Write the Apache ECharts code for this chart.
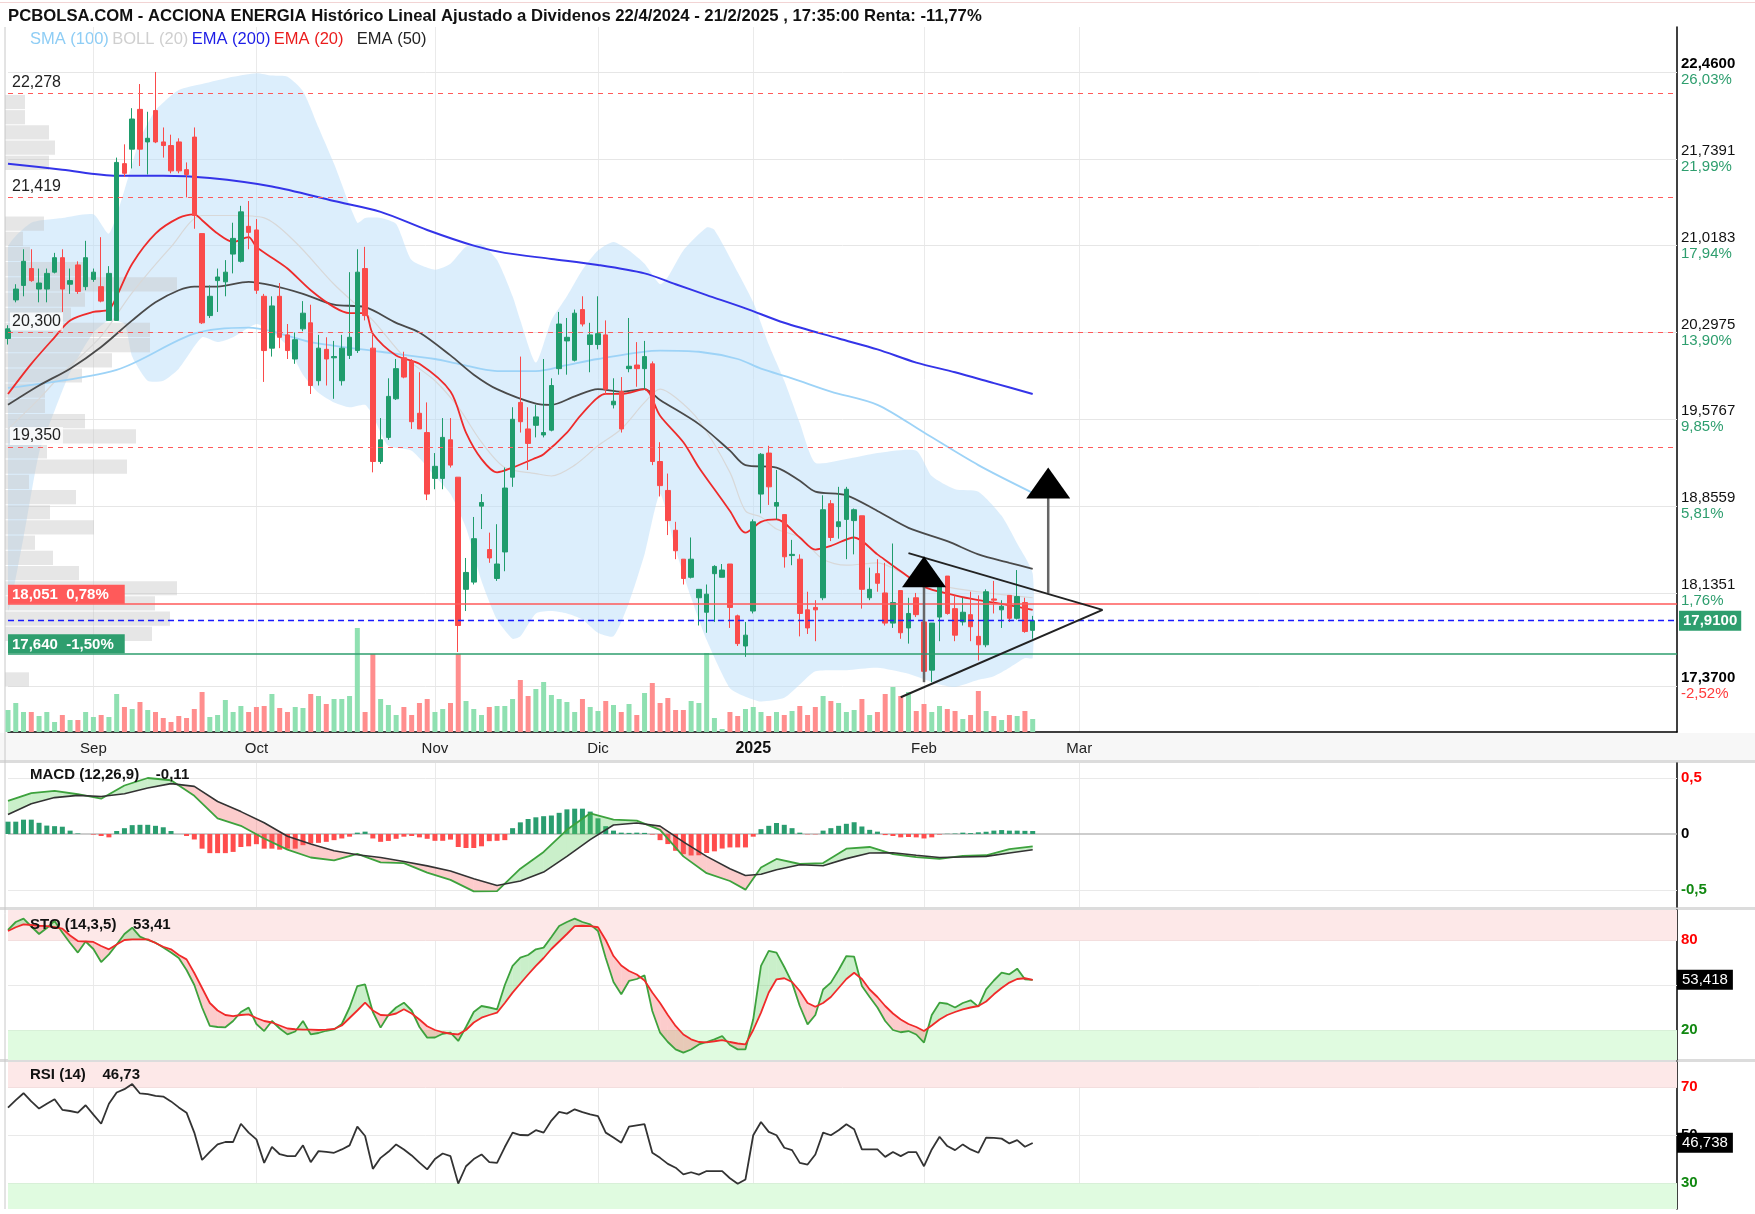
<!DOCTYPE html>
<html>
<head>
<meta charset="utf-8">
<script src="https://cdn.jsdelivr.net/npm/echarts@6/dist/echarts.min.js"></script>
<style>
  html, body { margin: 0; padding: 0; background: #fff; }
  #chart { width: 1755px; height: 1214px; }
</style>
</head>
<body>
<div id="chart"></div>
<script>
// ACCIONA ENERGIA - velas diarias + indicadores
const firstDay = [2024, 7, 16];            // 16/08/2024
const marketHolidays = ['2024-12-25', '2024-12-26', '2025-01-01', '2025-04-18', '2025-04-21', '2025-05-01'];
const slotCount = 216;                    // sesiones + hueco futuro
const monthLabels = { '2024-09': 'Sep', '2024-10': 'Oct', '2024-11': 'Nov', '2024-12': 'Dic', '2025-01': '2025', '2025-02': 'Feb', '2025-03': 'Mar' };

// [open, close, low, high]
const ohlc = [
  [20.25, 20.33, 20.20, 20.36], [20.57, 20.66, 20.55, 20.70], [20.69, 20.89, 20.60, 20.99], [20.83, 20.73, 20.72, 20.99], [20.66, 20.71, 20.55, 20.83],
  [20.66, 20.79, 20.55, 20.83], [20.80, 20.92, 20.79, 20.96], [20.92, 20.66, 20.47, 20.99], [20.70, 20.73, 20.62, 20.83], [20.86, 20.64, 20.62, 20.89],
  [20.68, 20.92, 20.65, 21.06], [20.74, 20.80, 20.72, 20.83], [20.68, 20.56, 20.55, 21.09], [20.40, 20.79, 20.40, 20.85], [20.40, 21.71, 20.40, 21.75],
  [21.70, 21.62, 21.59, 21.86], [21.82, 22.07, 21.66, 22.16], [22.15, 21.82, 21.68, 22.36], [21.88, 21.91, 21.61, 22.13], [22.14, 21.88, 21.87, 22.46],
  [21.88, 21.85, 21.75, 22.00], [21.85, 21.64, 21.62, 21.94], [21.88, 21.64, 21.62, 21.91], [21.65, 21.61, 21.42, 21.71], [21.92, 21.27, 21.16, 22.00],
  [21.12, 20.38, 20.37, 21.12], [20.44, 20.60, 20.42, 20.69], [20.73, 20.76, 20.47, 20.83], [20.72, 20.80, 20.60, 20.90], [20.95, 21.08, 20.79, 21.21],
  [20.89, 21.30, 20.88, 21.35], [21.18, 21.13, 20.99, 21.39], [21.15, 20.65, 20.62, 21.24], [20.60, 20.15, 19.89, 20.62], [20.17, 20.52, 20.10, 20.60],
  [20.60, 20.26, 20.17, 20.71], [20.28, 20.15, 20.08, 20.37], [20.08, 20.24, 20.04, 20.30], [20.33, 20.46, 20.31, 20.56], [20.38, 19.86, 19.79, 20.53],
  [19.90, 20.17, 19.86, 20.28], [20.16, 20.08, 19.86, 20.26], [20.09, 20.10, 19.75, 20.23], [19.90, 20.17, 19.86, 20.28], [20.11, 20.26, 20.08, 20.80],
  [20.15, 20.80, 20.13, 20.99], [20.83, 20.44, 20.40, 21.01], [20.17, 19.23, 19.14, 20.28], [19.23, 19.41, 19.21, 19.59], [19.43, 19.77, 19.41, 19.92],
  [19.75, 20.00, 19.74, 20.08], [20.09, 19.93, 19.92, 20.14], [20.06, 19.56, 19.50, 20.08], [19.63, 19.50, 19.50, 19.97], [19.47, 18.96, 18.91, 19.72],
  [19.09, 19.19, 19.00, 19.30], [19.09, 19.43, 19.00, 19.59], [19.41, 19.20, 19.18, 19.59], [19.10, 17.87, 17.65, 19.10], [18.17, 18.31, 17.99, 18.43],
  [18.23, 18.59, 18.21, 18.77], [18.86, 18.89, 18.67, 18.96], [18.50, 18.43, 18.39, 18.64], [18.26, 18.38, 18.24, 18.71], [18.48, 19.01, 18.32, 19.18],
  [19.10, 19.58, 19.02, 19.68], [19.72, 19.56, 19.47, 20.10], [19.50, 19.38, 19.16, 19.68], [19.53, 19.60, 19.43, 19.70], [19.45, 19.47, 19.43, 20.08],
  [19.49, 19.86, 19.48, 19.92], [20.00, 20.37, 19.95, 20.47], [20.23, 20.26, 19.95, 20.42], [20.07, 20.46, 20.06, 20.49], [20.49, 20.37, 20.35, 20.60],
  [20.20, 20.28, 19.97, 20.38], [20.20, 20.29, 20.16, 20.60], [20.28, 19.83, 19.79, 20.40], [19.70, 19.73, 19.67, 19.92], [19.81, 19.50, 19.47, 19.93],
  [20.00, 20.02, 19.97, 20.42], [20.03, 20.00, 19.85, 20.22], [20.00, 20.10, 19.83, 20.23], [20.04, 19.23, 19.20, 20.06], [19.23, 19.03, 18.94, 19.39],
  [18.99, 18.74, 18.62, 19.13], [18.66, 18.49, 18.42, 18.73], [18.42, 18.26, 18.21, 18.42], [18.27, 18.42, 18.26, 18.60], [18.10, 18.17, 17.87, 18.17],
  [17.98, 18.13, 17.81, 18.21], [18.30, 18.36, 17.90, 18.37], [18.27, 18.33, 18.27, 18.38], [18.38, 18.02, 17.85, 18.38], [17.95, 17.72, 17.70, 17.96],
  [17.70, 17.79, 17.61, 17.90], [17.99, 18.73, 17.97, 18.75], [18.96, 19.29, 18.80, 19.30], [19.30, 19.02, 18.87, 19.36], [18.86, 18.89, 18.75, 19.16],
  [18.79, 18.44, 18.35, 18.79], [18.45, 18.46, 18.37, 18.58], [18.42, 17.97, 17.78, 18.46], [18.00, 17.85, 17.80, 18.15], [18.02, 18.00, 17.74, 18.08],
  [18.10, 18.83, 18.08, 18.95], [18.88, 18.60, 18.57, 18.91], [18.69, 18.73, 18.59, 19.02], [18.75, 19.00, 18.42, 19.02], [18.74, 18.83, 18.46, 18.84],
  [18.78, 18.17, 18.01, 18.78], [18.10, 18.17, 18.08, 18.35], [18.30, 18.22, 18.15, 18.42], [18.14, 17.89, 17.87, 18.39], [17.89, 18.06, 17.85, 18.55],
  [18.16, 17.81, 17.76, 18.16], [17.85, 17.97, 17.72, 18.10], [18.10, 17.96, 17.94, 18.14], [17.90, 17.49, 17.49, 17.92], [17.50, 17.89, 17.40, 17.89],
  [17.94, 18.23, 17.74, 18.26], [18.28, 17.97, 17.96, 18.28], [18.01, 17.79, 17.74, 18.12], [17.90, 17.98, 17.87, 18.10], [17.96, 17.86, 17.74, 18.15],
  [17.78, 17.71, 17.58, 18.12], [17.71, 18.15, 17.69, 18.17], [18.09, 18.08, 17.97, 18.24], [18.00, 18.03, 17.85, 18.08], [18.12, 17.93, 17.90, 18.12],
  [17.93, 18.11, 17.92, 18.33], [18.06, 17.82, 17.81, 18.10], [17.83, 17.91, 17.76, 17.95]
];

const volume = [
  22, 29, 20, 20, 16, 20, 10, 17, 12, 12,
  20, 15, 17, 15, 38, 25, 23, 30, 22, 20,
  14, 10, 16, 14, 23, 40, 15, 17, 32, 20,
  26, 20, 25, 26, 38, 24, 20, 25, 24, 38,
  36, 28, 33, 33, 36, 104, 20, 78, 33, 27,
  17, 25, 17, 29, 33, 20, 23, 29, 78, 31,
  23, 17, 25, 26, 26, 33, 52, 36, 43, 50,
  37, 33, 30, 20, 33, 25, 21, 31, 27, 20,
  28, 17, 39, 49, 29, 34, 22, 22, 31, 29,
  79, 14, 3, 20, 16, 23, 25, 20, 16, 20,
  17, 21, 26, 17, 25, 36, 31, 29, 20, 22,
  33, 17, 20, 38, 45, 36, 40, 21, 28, 20,
  26, 23, 21, 13, 17, 41, 21, 16, 12, 17,
  16, 21, 13
];

// medias: [sesion, valor]
const ema200 = [[0, 21.70], [7, 21.65], [14, 21.60], [20, 21.60], [26, 21.58], [34, 21.51], [42, 21.39], [48, 21.30], [54, 21.15], [60, 21.02], [64, 20.96], [70, 20.91], [76, 20.86], [82, 20.79], [86, 20.70], [90, 20.61], [95, 20.50], [100, 20.38], [107, 20.25], [112, 20.16], [117, 20.05], [122, 19.97], [127, 19.88], [132, 19.79]];
const sma100 = [[0, 19.84], [14, 19.99], [24, 20.29], [31, 20.34], [34, 20.31], [39, 20.22], [48, 20.14], [55, 20.08], [58, 20.04], [63, 19.98], [68, 19.98], [72, 20.03], [76, 20.08], [84, 20.15], [89, 20.14], [94, 20.08], [97, 20.00], [101, 19.92], [106, 19.81], [112, 19.70], [118, 19.47], [125, 19.20], [132, 18.97]];
const ema20 = [[0, 19.79], [3, 20.04], [6, 20.26], [8, 20.40], [11, 20.47], [13, 20.49], [14, 20.60], [16, 20.87], [19, 21.12], [22, 21.25], [24, 21.28], [25, 21.23], [27, 21.12], [29, 21.05], [31, 21.09], [32, 21.01], [34, 20.92], [36, 20.83], [39, 20.65], [42, 20.51], [44, 20.46], [46, 20.46], [47, 20.29], [50, 20.11], [53, 20.04], [57, 19.81], [59, 19.47], [61, 19.25], [63, 19.14], [65, 19.18], [68, 19.26], [69, 19.29], [72, 19.47], [74, 19.63], [77, 19.79], [79, 19.79], [82, 19.83], [84, 19.61], [87, 19.39], [89, 19.18], [91, 19.00], [93, 18.82], [95, 18.64], [97, 18.73], [99, 18.75], [102, 18.60], [104, 18.50], [106, 18.53], [109, 18.60], [112, 18.46], [115, 18.32], [118, 18.19], [122, 18.12], [125, 18.08], [128, 18.05], [132, 18.00]];
const ema50 = [[0, 19.70], [4, 19.86], [8, 20.00], [12, 20.18], [16, 20.40], [19, 20.55], [22, 20.65], [24, 20.68], [27, 20.68], [31, 20.72], [34, 20.69], [38, 20.62], [42, 20.53], [46, 20.51], [50, 20.38], [53, 20.30], [57, 20.11], [60, 19.95], [63, 19.83], [68, 19.71], [70, 19.70], [73, 19.77], [76, 19.83], [79, 19.81], [82, 19.83], [84, 19.74], [89, 19.54], [93, 19.32], [95, 19.20], [99, 19.18], [102, 19.07], [104, 18.98], [108, 18.95], [112, 18.82], [116, 18.68], [121, 18.57], [125, 18.46], [129, 18.39], [132, 18.34]];
const bollMid = [[0, 19.50], [4, 19.75], [7, 19.96], [12, 20.27], [16, 20.63], [21, 21.01], [25, 21.27], [29, 21.27], [33, 21.25], [37, 21.05], [42, 20.70], [47, 20.40], [51, 20.10], [55, 19.90], [58, 19.68], [61, 19.39], [64, 19.18], [68, 19.13], [70, 19.11], [73, 19.20], [76, 19.36], [79, 19.50], [82, 19.72], [84, 19.83], [86, 19.76], [89, 19.57], [93, 19.14], [95, 18.82], [97, 18.77], [99, 18.67], [102, 18.60], [105, 18.42], [108, 18.37], [112, 18.39], [116, 18.28], [121, 18.19], [125, 18.15], [129, 18.12], [132, 18.10]];
const bollUpper = [[0, 21.00], [3, 21.21], [7, 21.25], [11, 21.28], [13, 21.12], [15, 21.48], [17, 21.90], [19, 22.14], [22, 22.31], [25, 22.36], [29, 22.42], [32, 22.45], [34, 22.43], [36, 22.42], [38, 22.30], [40, 22.00], [42, 21.70], [45, 21.21], [46, 21.25], [48, 21.25], [50, 21.20], [52, 20.90], [55, 20.82], [57, 20.87], [59, 21.01], [61, 21.03], [63, 20.90], [65, 20.60], [66, 20.40], [68, 20.05], [70, 20.40], [72, 20.60], [74, 20.82], [76, 20.98], [78, 21.05], [80, 20.98], [82, 20.87], [84, 20.70], [85, 20.76], [87, 20.98], [90, 21.17], [91, 21.15], [94, 20.80], [96, 20.55], [98, 20.20], [100, 19.90], [102, 19.55], [104, 19.22], [108, 19.25], [112, 19.30], [117, 19.32], [119, 19.11], [122, 19.00], [125, 18.98], [128, 18.78], [130, 18.55], [132, 18.30]];
const bollLower = [[0, 18.00], [2, 18.60], [4, 19.30], [6, 19.65], [8, 19.97], [11, 20.30], [13, 20.40], [15, 20.37], [16, 20.10], [18, 19.90], [20, 19.90], [22, 20.00], [25, 20.26], [27, 20.22], [29, 20.26], [32, 20.37], [34, 20.30], [36, 20.19], [38, 19.95], [40, 19.80], [42, 19.72], [44, 19.68], [46, 19.70], [47, 19.61], [49, 19.36], [52, 19.32], [55, 19.11], [57, 18.96], [59, 18.68], [61, 18.24], [63, 17.92], [65, 17.76], [66, 17.78], [68, 17.97], [70, 17.99], [72, 17.97], [74, 17.92], [76, 17.81], [78, 17.78], [80, 18.06], [82, 18.46], [84, 18.96], [86, 18.50], [88, 18.10], [90, 17.75], [93, 17.35], [95, 17.28], [97, 17.24], [100, 17.27], [102, 17.38], [104, 17.49], [108, 17.50], [112, 17.52], [116, 17.47], [120, 17.38], [122, 17.36], [125, 17.42], [127, 17.45], [129, 17.52], [131, 17.60], [132, 17.60]];

// perfil de volumen: [precio inicial del tramo, volumen relativo]
const profileStep = 0.126;
const profile = [
  [17.360, 24], [17.738, 147], [17.864, 165], [17.990, 150], [18.116, 172], [18.242, 74], [18.368, 48], [18.494, 30],
  [18.620, 89], [18.746, 45], [18.872, 71], [18.998, 24], [19.124, 122], [19.250, 42], [19.376, 131], [19.502, 80],
  [19.628, 40], [19.754, 40], [19.880, 77], [20.006, 107], [20.132, 145], [20.258, 145], [20.384, 66], [20.510, 80],
  [20.636, 172], [20.762, 80], [20.888, 25], [21.014, 18], [21.140, 39], [21.644, 44], [21.770, 50], [21.896, 44],
  [22.022, 20], [22.148, 20]
];

// MACD (12,26,9)
const macdIdx = [0, 3, 6, 9, 12, 15, 18, 21, 24, 27, 30, 33, 36, 39, 42, 45, 48, 51, 54, 57, 60, 63, 66, 69, 72, 75, 78, 81, 84, 87, 90, 93, 95, 97, 99, 102, 105, 108, 111, 114, 117, 120, 123, 126, 129, 132];
const macdLine = [0.296, 0.365, 0.385, 0.355, 0.315, 0.433, 0.5, 0.48, 0.341, 0.14, 0.073, -0.04, -0.14, -0.21, -0.235, -0.177, -0.253, -0.26, -0.345, -0.41, -0.512, -0.51, -0.31, -0.16, 0.037, 0.185, 0.128, 0.12, 0.037, -0.2, -0.35, -0.42, -0.497, -0.3, -0.223, -0.268, -0.26, -0.131, -0.116, -0.18, -0.207, -0.223, -0.195, -0.19, -0.135, -0.11];
const signalLine = [0.174, 0.27, 0.325, 0.345, 0.335, 0.36, 0.41, 0.45, 0.425, 0.29, 0.2, 0.1, -0.02, -0.09, -0.15, -0.185, -0.21, -0.245, -0.285, -0.33, -0.4, -0.46, -0.42, -0.34, -0.2, -0.05, 0.08, 0.098, 0.07, -0.07, -0.2, -0.31, -0.37, -0.36, -0.32, -0.275, -0.284, -0.22, -0.17, -0.168, -0.19, -0.21, -0.205, -0.2, -0.17, -0.14];
const macdHist = [
  0.11, 0.11, 0.128, 0.128, 0.1, 0.075, 0.07, 0.065, 0.03, 0.005,
  0.0, -0.005, -0.018, -0.03, 0.027, 0.052, 0.079, 0.082, 0.082, 0.073,
  0.06, 0.027, 0.0, -0.018, -0.049, -0.131, -0.171, -0.171, -0.171, -0.16,
  -0.116, -0.11, -0.091, -0.131, -0.131, -0.14, -0.131, -0.131, -0.1, -0.085,
  -0.079, -0.07, -0.055, -0.04, -0.024, 0.012, 0.021, -0.04, -0.07, -0.062,
  -0.043, -0.024, -0.018, -0.03, -0.043, -0.061, -0.061, -0.05, -0.116, -0.125,
  -0.125, -0.11, -0.064, -0.061, -0.055, 0.052, 0.104, 0.134, 0.149, 0.159,
  0.165, 0.189, 0.22, 0.226, 0.226, 0.2, 0.14, 0.07, 0.03, 0.012,
  0.01, 0.012, 0.01, -0.005, -0.055, -0.09, -0.15, -0.18, -0.192, -0.19,
  -0.17, -0.155, -0.13, -0.12, -0.12, -0.12, -0.024, 0.043, 0.073, 0.098,
  0.082, 0.052, 0.012, -0.003, -0.003, 0.03, 0.052, 0.073, 0.091, 0.105,
  0.067, 0.037, 0.021, -0.01, -0.018, -0.03, -0.027, -0.03, -0.04, -0.03,
  -0.005, 0.002, 0.004, 0.012, 0.008, 0.015, 0.02, 0.03, 0.035, 0.03,
  0.03, 0.028, 0.027
];

// Estocastico (14,3,5)
const stoK = [
  86.7, 92, 94.2, 89, 84, 88, 92.7, 85, 78, 71.6,
  79, 74, 65.3, 70.4, 77, 84, 88.2, 82.2, 80, 78.2,
  75, 71.6, 68, 60, 50, 35, 22.7, 22, 21.8, 26,
  32, 34.9, 24, 19.3, 26, 21, 17.1, 19, 26, 17.1,
  18, 19.5, 20.4, 24, 35, 49.3, 50.4, 32, 21.6, 30,
  35, 38.2, 33, 22, 14.9, 15, 17.5, 18.2, 12.7, 22,
  32, 36, 35, 33.8, 50, 62.7, 68.2, 70, 73.8, 74.9,
  82, 89.3, 92, 94.2, 92, 90.4, 86, 68, 52, 43.8,
  52.7, 54, 56.4, 32.7, 18.2, 12, 7.1, 4.9, 7, 10.4,
  12, 13.8, 16, 10, 7.1, 7.1, 27.1, 62.7, 72.7, 71.6,
  62, 51.6, 36, 23.8, 30, 47, 51.6, 60, 69.3, 68.9,
  49.3, 42, 35, 26, 20, 18.5, 19.3, 17, 11.6, 30,
  38.2, 37.5, 35, 38, 39.8, 35.6, 47.1, 53, 58.2, 57.1,
  60.9, 53.8, 53.4
];
const stoD = [
  86, 88.5, 90.4, 90, 89.5, 89.3, 88.5, 87.6, 83, 79.3,
  79, 78.7, 76, 73.8, 77, 80, 80.4, 80.4, 80.4, 78,
  75.5, 73.8, 70, 67.1, 58, 48, 38, 33, 30, 29.3,
  30, 30.4, 28, 26, 25, 23, 21, 20.5, 20.3, 20.2,
  20, 20.3, 20.7, 23, 28, 33, 38.2, 33, 30, 29.8,
  31, 33.8, 31, 27, 22.5, 20, 18.5, 17.5, 17.1, 20,
  25, 28.2, 30, 31.6, 38, 44.9, 51, 57, 62.7, 68,
  74, 79, 84, 89.3, 89.5, 89.3, 88.5, 80, 69.3, 63,
  59.3, 57, 53, 45, 38, 30, 22.7, 17, 13.8, 12,
  11.8, 12.5, 13.3, 12, 11, 10.4, 20, 31.6, 45, 53.8,
  54.5, 52, 46, 38, 35.5, 38, 42, 48, 54, 58.2,
  54, 47, 42, 36, 31, 27, 24, 22, 19.3, 23,
  27, 30, 32, 33.8, 35, 36, 39, 43.8, 48, 51.6,
  54, 54.5, 53.4
];

// RSI (14)
const rsi = [
  61.4, 64.5, 67.4, 64, 61, 63, 64.9, 60.5, 60, 59.3,
  62.4, 58.5, 54.7, 63, 67.7, 69.1, 71.2, 67.3, 67, 66.3,
  66, 64, 61.5, 59.3, 51, 39.6, 43, 46.1, 47.1, 47.1,
  54.7, 51, 48.2, 38.4, 45.1, 42, 41.2, 41.2, 45.7, 38.7,
  43.3, 43, 42.6, 44, 45.7, 53.5, 49.6, 35.9, 40.5, 43,
  46.1, 44, 41.5, 38.5, 35.7, 40, 42.3, 41.2, 29.8, 37,
  40, 41.9, 38.7, 38.4, 45, 51, 50, 49.9, 52, 51,
  56, 59.6, 58.9, 60.7, 59.5, 58.6, 57.9, 51, 49, 46.8,
  53.5, 54, 54.5, 42.6, 40.5, 38, 36.4, 33.6, 34.5, 33.5,
  35, 35, 35, 32, 29.7, 31.5, 49.9, 55.4, 51.3, 49.9,
  44.7, 43.7, 38.4, 37.7, 41.9, 51, 49.9, 52, 54.5, 52.4,
  44, 44, 44, 40.9, 42.9, 41.2, 42.9, 42.9, 37, 44,
  49.3, 45.4, 43.7, 46.1, 44, 42.6, 48.9, 48.8, 48.5, 46.5,
  47.9, 45.1, 46.7
];

// escala de precios (derecha)
const priceTicks = [22.46, 21.7391, 21.0183, 20.2975, 19.5767, 18.8559, 18.1351, 17.37];
const priceTickText = ['22,4600', '21,7391', '21,0183', '20,2975', '19,5767', '18,8559', '18,1351', '17,3700'];
const pctTickText = ['26,03%', '21,99%', '17,94%', '13,90%', '9,85%', '5,81%', '1,76%', '-2,52%'];

// niveles horizontales
const levelPrices = [22.278, 21.419, 20.300, 19.350];
const levelText = ['22,278', '21,419', '20,300', '19,350'];
const highRef = [18.051, '18,051  0,78%'];
const lowRef = [17.640, '17,640  -1,50%'];
const lastPrice = [17.91, '17,9100'];
const stoLast = [53.418, '53,418'];
const rsiLast = [46.738, '46,738'];

// dibujos: triangulo simetrico y flechas [sesion, precio base, precio punta]
const trendLines = [[116, 18.47, 141, 18.00], [115, 17.275, 141, 18.00]];
const arrowMarks = [[118, 17.40, 18.445], [134, 18.14, 19.18]];

const FONT = "'Liberation Sans', Arial, sans-serif";

(function () {
  // sesiones bursatiles
  const days = [];
  const d = new Date(Date.UTC(firstDay[0], firstDay[1], firstDay[2]));
  while (days.length < slotCount) {
    const s = d.toISOString().slice(0, 10);
    const wd = d.getUTCDay();
    if (wd !== 0 && wd !== 6 && marketHolidays.indexOf(s) < 0) days.push(s);
    d.setUTCDate(d.getUTCDate() + 1);
  }
  function isMonthStart(i) {
    if (i <= 0) return false;
    const m = days[i].slice(0, 7);
    return m !== days[i - 1].slice(0, 7) && monthLabels[m] !== undefined;
  }

  const UP = '#1f9c6c', DOWN = '#fa4b4b';
  const upFill = 'rgba(90,205,90,0.32)', downFill = 'rgba(245,95,95,0.32)';

  function monthAxis(gridIndex, withLabels) {
    return {
      type: 'category', gridIndex: gridIndex, data: days, boundaryGap: false,
      axisLine: { show: withLabels, onZero: false, lineStyle: { color: '#000', width: 1.5 } },
      axisTick: { show: false },
      axisLabel: {
        show: withLabels, interval: function (i) { return isMonthStart(i); }, margin: 9,
        formatter: function (v) {
          const t = monthLabels[v.slice(0, 7)];
          return t === '2025' ? '{b|2025}' : '{n|' + t + '}';
        },
        rich: { n: { fontSize: 15, color: '#222', fontFamily: FONT }, b: { fontSize: 16, fontWeight: 'bold', color: '#111', fontFamily: FONT } }
      },
      splitLine: { show: true, interval: function (i) { return isMonthStart(i); }, lineStyle: { color: '#eaeaea', width: 1 } }
    };
  }
  function rightAxis(gridIndex, min, max) {
    return {
      type: 'value', gridIndex: gridIndex, min: min, max: max, position: 'right',
      axisLine: { show: true, lineStyle: { color: '#000', width: 1.5 } },
      axisTick: { show: false }, axisLabel: { show: false }, splitLine: { show: false }
    };
  }

  // relleno entre dos curvas
  function fillBetween(xs, a, b) {
    return function (params, api) {
      const kids = [];
      const poly = function (pts, fill) {
        kids.push({ type: 'polygon', shape: { points: pts }, style: { fill: fill }, silent: true });
      };
      for (let k = 0; k < xs.length - 1; k++) {
        const A0 = api.coord([xs[k], a[k]]), A1 = api.coord([xs[k + 1], a[k + 1]]);
        const B0 = api.coord([xs[k], b[k]]), B1 = api.coord([xs[k + 1], b[k + 1]]);
        const d0 = a[k] - b[k], d1 = a[k + 1] - b[k + 1];
        if (d0 * d1 < 0) {
          const t = d0 / (d0 - d1);
          const M = [A0[0] + t * (A1[0] - A0[0]), A0[1] + t * (A1[1] - A0[1])];
          poly([A0, M, B0], d0 > 0 ? upFill : downFill);
          poly([M, A1, B1], d1 > 0 ? upFill : downFill);
        } else {
          poly([A0, A1, B1, B0], (d0 + d1) >= 0 ? upFill : downFill);
        }
      }
      return { type: 'group', children: kids };
    };
  }

  function axisMark(items) {
    return {
      silent: true, symbol: 'none', animation: false, z: 1,
      lineStyle: { color: '#e9e9e9', width: 1, type: 'solid' },
      label: {
        position: 'end', distance: 4, formatter: function (p) { return p.name; },
        rich: {
          r: { color: '#f00', fontWeight: 'bold', fontSize: 15, fontFamily: FONT },
          g: { color: '#118811', fontWeight: 'bold', fontSize: 15, fontFamily: FONT },
          k: { color: '#000', fontWeight: 'bold', fontSize: 15, fontFamily: FONT }
        }
      },
      data: items
    };
  }
  function valueBox(item) {
    return {
      silent: true, symbol: 'none', animation: false, z: 20,
      lineStyle: { color: 'rgba(0,0,0,0)', width: 1 },
      label: { show: true, position: 'end', distance: 0, formatter: '{b}', backgroundColor: '#000', color: '#fff', fontSize: 15, fontFamily: FONT, padding: [3, 5, 2, 5] },
      data: [{ yAxis: item[0], name: item[1] }]
    };
  }

  const priceMarks = priceTicks.map(function (v, k) {
    const strong = (k === 0 || k === priceTicks.length - 1);
    const neg = pctTickText[k].charAt(0) === '-';
    return { yAxis: v, name: '{' + (strong ? 'pb' : 'p') + '|' + priceTickText[k] + '}\n{' + (neg ? 'n' : 'g') + '|' + pctTickText[k] + '}' };
  });

  const levelLabel = { position: 'insideStartTop', distance: 2, formatter: '{b}', color: '#222', fontSize: 16, fontFamily: FONT, backgroundColor: 'rgba(255,255,255,0.8)', padding: [1, 2] };
  const levelMarks = levelPrices.map(function (v, k) {
    return { yAxis: v, name: levelText[k], lineStyle: { color: '#ff5a5a', type: [5, 5], width: 1.2 }, label: levelLabel };
  });
  levelMarks.push({ yAxis: highRef[0], name: highRef[1], lineStyle: { color: '#ff5a5a', type: 'solid', width: 1.5 },
    label: { position: 'insideStartTop', distance: 0, formatter: '{b}', color: '#fff', fontWeight: 'bold', fontSize: 15, fontFamily: FONT, backgroundColor: '#ff5a5a', padding: [3, 16, 1, 4] } });
  levelMarks.push({ yAxis: lowRef[0], name: lowRef[1], lineStyle: { color: '#2e9e6e', type: 'solid', width: 1.5 },
    label: { position: 'insideStartTop', distance: 0, formatter: '{b}', color: '#fff', fontWeight: 'bold', fontSize: 15, fontFamily: FONT, backgroundColor: '#2e9e6e', padding: [3, 11, 1, 4] } });
  levelMarks.push({ yAxis: lastPrice[0], name: lastPrice[1], lineStyle: { color: '#1a1aff', type: [6, 4], width: 1.3 },
    label: { position: 'end', distance: 2, formatter: '{b}', color: '#fff', fontWeight: 'bold', fontSize: 15, fontFamily: FONT, backgroundColor: '#2e9e6e', padding: [3, 4, 2, 4] } });

  function lineSeries(data, color, width, z, smooth) {
    return { type: 'line', xAxisIndex: 0, yAxisIndex: 0, data: data, showSymbol: false, symbol: 'none', smooth: smooth, z: z,
      lineStyle: { color: color, width: width }, silent: true };
  }

  const chart = echarts.init(document.getElementById('chart'), null, { renderer: 'canvas' });
  const option = {
    animation: false,
    backgroundColor: '#fff',
    textStyle: { fontFamily: FONT },
    grid: [
      { left: 8, right: 78, top: 27, height: 705 },
      { left: 8, right: 78, top: 620, height: 112 },
      { left: 5, right: 78, top: 27, height: 705 },
      { left: 8, right: 78, top: 763, height: 144 },
      { left: 8, right: 78, top: 910, height: 150 },
      { left: 8, right: 78, top: 1062, height: 147 }
    ],
    xAxis: [
      monthAxis(0, true),
      { type: 'category', gridIndex: 1, data: days, boundaryGap: false, show: false },
      { type: 'value', gridIndex: 2, min: 0, max: 1672, show: false },
      monthAxis(3, false), monthAxis(4, false), monthAxis(5, false)
    ],
    yAxis: [
      rightAxis(0, 16.987, 22.833),
      { type: 'value', gridIndex: 1, min: 0, max: 112, show: false },
      { type: 'value', gridIndex: 2, min: 16.987, max: 22.833, show: false },
      rightAxis(3, -0.652, 0.634),
      rightAxis(4, 0, 100),
      rightAxis(5, 19.2, 80.4)
    ],
    graphic: [
      { type: 'rect', z: -10, shape: { x: 0, y: 733, width: 1755, height: 28 }, style: { fill: '#f7f7f7' }, silent: true },
      { type: 'rect', z: -10, shape: { x: 0, y: 760, width: 1755, height: 3 }, style: { fill: '#dcdcdc' }, silent: true },
      { type: 'rect', z: -10, shape: { x: 0, y: 907, width: 1755, height: 3 }, style: { fill: '#dcdcdc' }, silent: true },
      { type: 'rect', z: -10, shape: { x: 0, y: 1059, width: 1755, height: 3 }, style: { fill: '#dcdcdc' }, silent: true },
      { type: 'rect', z: -10, shape: { x: 0, y: 2, width: 1755, height: 1 }, style: { fill: '#f2d4d4' }, silent: true },
      { type: 'line', z: -5, shape: { x1: 5, y1: 27, x2: 5, y2: 1209 }, style: { stroke: '#c8c8c8', lineWidth: 1 }, silent: true },
      { type: 'text', left: 8, top: 8, style: { text: 'PCBOLSA.COM - ACCIONA ENERGIA Histórico Lineal Ajustado a Dividenos 22/4/2024 - 21/2/2025 , 17:35:00 Renta: -11,77%', font: 'bold 16.7px ' + FONT, fill: '#111' } },
      { type: 'text', left: 30, top: 31, style: {
          text: '{a|SMA (100)} {b|BOLL (20)} {c|EMA (200)} {d|EMA (20)}    {e|EMA (50)}',
          rich: {
            a: { fill: '#8ecdf5', font: '16.5px ' + FONT }, b: { fill: '#cfcfcf', font: '16.5px ' + FONT },
            c: { fill: '#1d1de6', font: '16.5px ' + FONT }, d: { fill: '#ea1c1c', font: '16.5px ' + FONT },
            e: { fill: '#222', font: '16.5px ' + FONT }
          } } },
      { type: 'text', left: 30, top: 767, z: 30, style: { text: 'MACD (12,26,9)    -0,11', font: 'bold 15px ' + FONT, fill: '#111' } },
      { type: 'text', left: 30, top: 917, z: 30, style: { text: 'STO (14,3,5)    53,41', font: 'bold 15px ' + FONT, fill: '#111' } },
      { type: 'text', left: 30, top: 1067, z: 30, style: { text: 'RSI (14)    46,73', font: 'bold 15px ' + FONT, fill: '#111' } }
    ],
    series: [
      // bandas de Bollinger
      { type: 'custom', xAxisIndex: 0, yAxisIndex: 0, z: 1, clip: true, silent: true, data: [[0, 20]],
        renderItem: function (params, api) {
          const pts = [];
          bollUpper.forEach(function (p) { pts.push(api.coord(p)); });
          for (let k = bollLower.length - 1; k >= 0; k--) pts.push(api.coord(bollLower[k]));
          return { type: 'polygon', shape: { points: pts, smooth: 0.2 }, style: { fill: 'rgba(185,222,250,0.5)' } };
        }
      },
      // perfil de volumen
      { type: 'custom', xAxisIndex: 2, yAxisIndex: 2, z: 3, silent: true,
        data: profile.map(function (r) { return [r[1], r[0]]; }),
        renderItem: function (params, api) {
          const low = api.value(1), vol = api.value(0);
          const a = api.coord([0, low + profileStep]), b = api.coord([vol, low]);
          return { type: 'rect', shape: { x: a[0], y: a[1] + 0.5, width: b[0] - a[0], height: b[1] - a[1] - 1 }, style: { fill: 'rgba(195,195,195,0.42)' } };
        }
      },
      // volumen
      { type: 'bar', xAxisIndex: 1, yAxisIndex: 1, z: 4, barWidth: 5, silent: true,
        data: volume.map(function (v, i) { return { value: v, itemStyle: { color: ohlc[i][1] >= ohlc[i][0] ? '#8fe0b1' : '#ff8e8e' } }; }) },
      Object.assign(lineSeries(bollMid, '#d8d8d8', 1.2, 5, 0.3), {
        markLine: {
          silent: true, symbol: 'none', animation: false, z: 1,
          lineStyle: { color: '#e6e6e6', width: 1, type: 'solid' },
          label: {
            position: 'end', distance: 4, formatter: function (p) { return p.name; },
            rich: {
              p: { color: '#111', fontSize: 15, fontFamily: FONT, lineHeight: 16 },
              pb: { color: '#000', fontSize: 15, fontWeight: 'bold', fontFamily: FONT, lineHeight: 16 },
              g: { color: '#2e9e6e', fontSize: 15, fontFamily: FONT, lineHeight: 16 },
              n: { color: '#ff3b3b', fontSize: 15, fontFamily: FONT, lineHeight: 16 }
            }
          },
          data: priceMarks
        }
      }),
      lineSeries(sma100, '#9dd3f7', 1.8, 5, 0.3),
      lineSeries(ema200, '#3434e8', 2, 6, 0.3),
      lineSeries(ema50, '#4a4a4a', 1.8, 6, 0.3),
      lineSeries(ema20, '#ee2b2b', 1.8, 6, 0.3),
      // velas
      { type: 'candlestick', xAxisIndex: 0, yAxisIndex: 0, z: 8, barWidth: 5, data: ohlc, silent: true,
        itemStyle: { color: UP, color0: DOWN, borderColor: UP, borderColor0: DOWN, borderWidth: 1 },
        markLine: { silent: true, symbol: 'none', animation: false, z: 9, data: levelMarks } },
      // triangulo y flechas
      { type: 'custom', xAxisIndex: 0, yAxisIndex: 0, z: 12, clip: false, silent: true, data: [[0, 20]],
        renderItem: function (params, api) {
          const kids = [];
          trendLines.forEach(function (t) {
            const a = api.coord([t[0], t[1]]), b = api.coord([t[2], t[3]]);
            kids.push({ type: 'line', shape: { x1: a[0], y1: a[1], x2: b[0], y2: b[1] }, style: { stroke: '#222', lineWidth: 2 } });
          });
          arrowMarks.forEach(function (m) {
            const base = api.coord([m[0], m[1]]), tip = api.coord([m[0], m[2]]);
            kids.push({ type: 'line', shape: { x1: base[0], y1: base[1], x2: tip[0], y2: tip[1] + 30 }, style: { stroke: '#666', lineWidth: 2.5 } });
            kids.push({ type: 'polygon', shape: { points: [[tip[0], tip[1]], [tip[0] - 22, tip[1] + 31], [tip[0] + 22, tip[1] + 31]] }, style: { fill: '#000' } });
          });
          return { type: 'group', children: kids };
        }
      },
      // MACD
      { type: 'bar', xAxisIndex: 3, yAxisIndex: 3, z: 3, barWidth: 5, silent: true,
        data: macdHist.map(function (v) { return { value: v, itemStyle: { color: v >= 0 ? '#2a9d6f' : '#ff4d4d' } }; }),
        markLine: axisMark([
          { yAxis: 0.5, name: '{r|0,5}' },
          { yAxis: 0, name: '{k|0}', lineStyle: { color: '#bdbdbd', width: 1.5 } },
          { yAxis: -0.5, name: '{g|-0,5}' }
        ]) },
      { type: 'custom', xAxisIndex: 3, yAxisIndex: 3, z: 4, silent: true, clip: true, data: [[0, 0]],
        renderItem: fillBetween(macdIdx, macdLine, signalLine) },
      { type: 'line', xAxisIndex: 3, yAxisIndex: 3, z: 5, showSymbol: false, symbol: 'none', silent: true,
        data: macdIdx.map(function (x, k) { return [x, macdLine[k]]; }), lineStyle: { color: '#3da23d', width: 1.8 } },
      { type: 'line', xAxisIndex: 3, yAxisIndex: 3, z: 5, showSymbol: false, symbol: 'none', silent: true,
        data: macdIdx.map(function (x, k) { return [x, signalLine[k]]; }), lineStyle: { color: '#333', width: 1.6 } },
      // Estocastico
      { type: 'custom', xAxisIndex: 4, yAxisIndex: 4, z: 4, silent: true, clip: true, data: [[0, 50]],
        renderItem: fillBetween(stoK.map(function (_, i) { return i; }), stoK, stoD),
        markArea: { silent: true, z: 1, data: [
          [{ yAxis: 80, itemStyle: { color: '#fde8e8' } }, { yAxis: 100 }],
          [{ yAxis: 0, itemStyle: { color: '#e0fbe0' } }, { yAxis: 20 }]
        ] } },
      { type: 'line', xAxisIndex: 4, yAxisIndex: 4, z: 5, showSymbol: false, symbol: 'none', silent: true,
        data: stoK, lineStyle: { color: '#3da23d', width: 1.8 },
        markLine: axisMark([
          { yAxis: 80, name: '{r|80}', lineStyle: { color: '#f3dede' } },
          { yAxis: 50, name: '', label: { show: false } },
          { yAxis: 20, name: '{g|20}', lineStyle: { color: '#d8f0d8' } }
        ]) },
      { type: 'line', xAxisIndex: 4, yAxisIndex: 4, z: 6, showSymbol: false, symbol: 'none', silent: true,
        data: stoD, lineStyle: { color: '#f02a2a', width: 1.8 }, markLine: valueBox(stoLast) },
      // RSI
      { type: 'line', xAxisIndex: 5, yAxisIndex: 5, z: 5, showSymbol: false, symbol: 'none', silent: true,
        data: rsi, lineStyle: { color: '#333', width: 1.8 },
        markArea: { silent: true, z: 1, data: [
          [{ yAxis: 70, itemStyle: { color: '#fde8e8' } }, { yAxis: 80.4 }],
          [{ yAxis: 19.2, itemStyle: { color: '#e0fbe0' } }, { yAxis: 30 }]
        ] },
        markLine: axisMark([
          { yAxis: 70, name: '{r|70}', lineStyle: { color: '#f3dede' } },
          { yAxis: 50, name: '{k|50}' },
          { yAxis: 30, name: '{g|30}', lineStyle: { color: '#d8f0d8' } }
        ]) },
      { type: 'line', xAxisIndex: 5, yAxisIndex: 5, z: 7, showSymbol: false, symbol: 'none', silent: true,
        data: rsi, lineStyle: { color: 'rgba(0,0,0,0)', width: 0 }, markLine: valueBox(rsiLast) }
    ]
  };
  chart.setOption(option);
  window.addEventListener('resize', function () { chart.resize(); });
})();
</script>
</body>
</html>
